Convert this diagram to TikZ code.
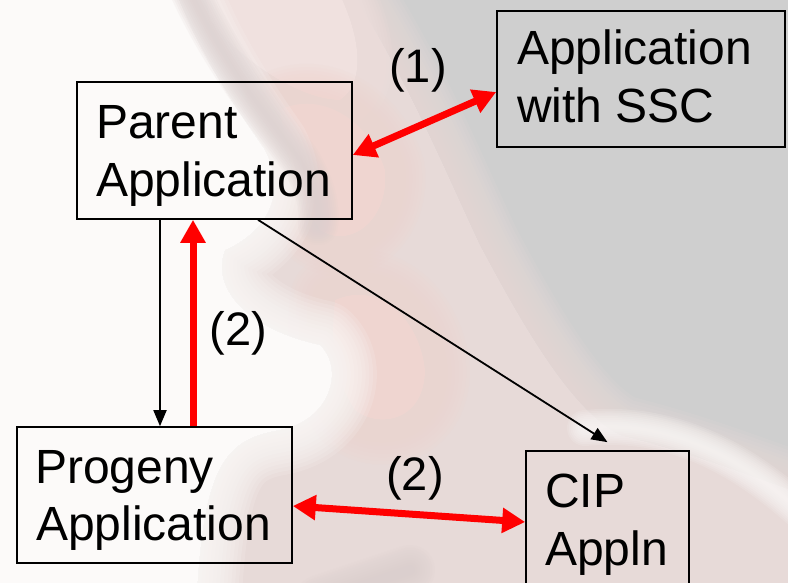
\documentclass[tikz,border=0pt]{standalone}
\usepackage{fontspec}
\setmainfont{Liberation Sans}
\usetikzlibrary{arrows.meta,calc}

\definecolor{bggray}{HTML}{CFCFCF}
\definecolor{skin}{HTML}{E7DAD8}
\definecolor{skinred}{HTML}{EFD5D0}
\definecolor{skinpale}{HTML}{F0E1DF}
\definecolor{crease}{HTML}{DBCFCE}
\definecolor{paper}{HTML}{FCFAF9}

% solid fill with a soft, blurred rim
\newcommand\softfill[3]{%
  \fill[#1] #3;
  \foreach \k in {1,...,12}{%
    \pgfmathsetmacro\lw{#2*\k/12}%
    \draw[#1, line width=\lw pt, line join=round, opacity=0.15] #3;}%
}
% soft stroke along an open path
\newcommand\softline[3]{%
  \foreach \k in {1,...,10}{%
    \pgfmathsetmacro\lw{#2*\k/10}%
    \draw[#1, line width=\lw pt, line cap=round, line join=round, opacity=0.14] #3;}%
}

\tikzset{
  box/.style={draw=black, line width=1.6pt, rectangle, inner sep=0pt},
  txt/.style={font=\fontsize{48}{56}\selectfont, inner sep=0pt, anchor=base west},
  num/.style={font=\fontsize{47}{56}\selectfont, inner sep=0pt},
  link/.style={draw=black, line width=1.8pt, -{Triangle[length=16pt,width=13pt]}},
  redone/.style={draw=red, line width=7pt, -{Triangle[length=23pt,width=24pt]}},
  redboth/.style={draw=red, line width=7pt,
    {Triangle[length=23pt,width=24pt]}-{Triangle[length=23pt,width=24pt]}},
}

\begin{document}
\begin{tikzpicture}[x=1pt, y=-1pt]
\useasboundingbox (0,0) rectangle (788,583);
\clip (0,0) rectangle (788,583);

% ---- blurred photographic backdrop ----
\fill[bggray] (0,0) rectangle (788,583);
\softfill{skin}{80}{(150,-40) -- (330,-40) .. controls (400,60) and (440,160) .. (480,245)
  .. controls (520,320) and (570,410) .. (620,435) .. controls (700,455) and (760,480) .. (820,500)
  -- (820,640) -- (-40,640) -- (-40,-40) -- cycle}
\softfill{skinpale}{70}{(200,-40) -- (320,-40) .. controls (360,20) and (370,80) .. (340,100)
  .. controls (300,100) and (240,60) .. (210,20) -- cycle}
\softfill{skinred}{80}{(280,110) .. controls (320,90) and (370,120) .. (385,170)
  .. controls (390,220) and (350,250) .. (320,230) .. controls (300,200) and (285,150) .. (280,110) -- cycle}
\softfill{skinred}{90}{(335,300) .. controls (380,280) and (420,320) .. (425,370)
  .. controls (425,420) and (380,430) .. (355,410) .. controls (335,380) and (330,340) .. (335,300) -- cycle}
\softfill{paper}{90}{(-40,-40) -- (165,-40) .. controls (190,40) and (230,100) .. (265,150)
  .. controls (290,200) and (260,235) .. (225,250) .. controls (210,290) and (250,330) .. (320,345)
  .. controls (345,370) and (330,420) .. (280,430) .. controls (220,440) and (200,470) .. (195,640)
  -- (-40,640) -- cycle}
\softline{crease}{40}{(185,-20) .. controls (220,60) and (270,120) .. (300,160) .. controls (315,185) and (320,205) .. (318,225)}
\softline{paper}{36}{(585,428) .. controls (670,420) and (740,455) .. (810,520)}
\softline{crease}{50}{(320,600) -- (410,570)}

% ---- boxes ----
\node[box, minimum width=275pt, minimum height=137pt] (parent)  at (214.5,150.5) {};
\node[box, minimum width=288pt, minimum height=136pt] (ssc)     at (641,79) {};
\node[box, minimum width=275pt, minimum height=136pt] (progeny) at (154.5,495) {};
\node[box, minimum width=163pt, minimum height=154pt] (cip)     at (607.5,528) {};

% ---- connectors ----
\coordinate (down) at ([xshift=-54.5pt]parent.south);
\coordinate (up)   at ([xshift=-21.5pt]parent.south);
\draw[link] (down) -- (down |- progeny.north);
\draw[redone] (up |- progeny.north) -- (up);
\draw[link] ([xshift=43.5pt]parent.south) -- ([yshift=8pt]cip.north);
\draw[redboth] ([yshift=-4.5pt]parent.east) -- ([yshift=-13pt]ssc.west);
\draw[redboth] ([yshift=-11pt]progeny.east) -- ([yshift=6pt]cip.west);

% ---- texts ----
\node[txt] (parentA) at (96,139) {Parent};
\node[txt] (parentB) at (96,197) {Application};
\node[txt] (sscA)    at (517,65) {Application};
\node[txt] (sscB)    at (517,123) {with SSC};
\node[txt] (progA)   at (35,483) {Progeny};
\node[txt] (progB)   at (36,540) {Application};
\node[txt] (cipA)    at (545,507) {CIP};
\node[txt] (cipB)    at (545,565) {Appln};
\node[num] (lblone)  at (418,70) {(1)};
\node[num] (lbltwoa) at (238.5,333.5) {(2)};
\node[num] (lbltwob) at (415,478.5) {(2)};
\end{tikzpicture}
\end{document}
